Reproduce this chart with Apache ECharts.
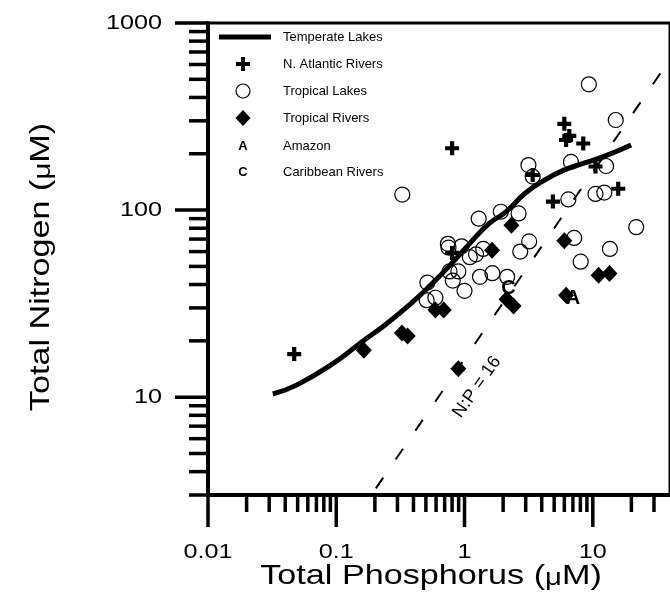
<!DOCTYPE html>
<html><head><meta charset="utf-8">
<script src="https://cdn.jsdelivr.net/npm/echarts@6/dist/echarts.min.js"></script>
<style>html,body{margin:0;padding:0;background:#fff}#c{width:670px;height:615px}</style>
</head><body><div id="c"></div>
<script>
// ---- data ----
const seriesNames = ['Temperate Lakes', 'N. Atlantic Rivers', 'Tropical Lakes', 'Tropical Rivers', 'Amazon', 'Caribbean Rivers'];

const temperateP = [0.032, 0.049, 0.094, 0.159, 0.24, 0.383, 0.544, 0.773, 1.10, 1.56, 2.09, 2.97, 4.23, 6.01, 8.54, 12.1, 19.9];
const temperateN = [10.4, 11.6, 15.1, 19.8, 24.3, 31.7, 39.7, 50.8, 66.4, 84.9, 97.5, 123, 145, 164, 178, 193, 223];

const atlanticP = [0.047, 0.80, 0.80, 3.40, 6.0, 6.56, 6.19, 8.43, 10.5, 4.89, 15.8];
const atlanticN = [17, 214, 59, 154, 289, 249, 237, 227, 171, 111, 130];

const tropLakeP = [9.32, 15.1, 3.15, 3.40, 6.76, 12.7, 6.45, 10.5, 12.3, 21.8, 1.92, 2.64, 3.19, 2.72, 7.16, 13.6, 8.05, 1.65, 2.15, 0.327, 1.29, 0.742, 0.75, 0.949, 1.10, 1.23, 1.40, 0.764, 0.895, 0.81, 1.0, 1.32, 0.513, 0.593, 0.507];
const tropLakeN = [470, 303, 174, 151, 181, 172, 114, 122, 124, 81, 98, 96, 68, 60, 71, 62, 53, 46, 44, 121, 90, 66, 63, 64, 56, 58, 62, 47, 47, 42, 37, 44, 41, 34, 33];

const tropRiverP = [0.164, 0.325, 0.36, 0.593, 0.688, 0.895, 1.64, 2.32, 2.13, 2.41, 6.0, 6.19, 11.1, 13.5];
const tropRiverN = [17.8, 22.0, 21.2, 29.2, 29.2, 14.2, 61, 83, 33.4, 30.7, 68.5, 35.1, 44.9, 45.8];

const amazonP = [7.0];
const amazonN = [33.5];
const caribP = [2.2];
const caribN = [38.1];

const npRatio = 16;
const npLineP = [0.1, 40];
const npLabel = 'N:P = 16';

const xMin = 0.01, xMax = 40, yMin = 3, yMax = 1000;
const xMajorTicks = [0.01, 0.1, 1, 10];
const xMajorLabels = ['0.01', '0.1', '1', '10'];
const xMinorTicks = [0.02, 0.03, 0.04, 0.05, 0.06, 0.07, 0.08, 0.09, 0.2, 0.3, 0.4, 0.5, 0.6, 0.7, 0.8, 0.9, 2, 3, 4, 5, 6, 7, 8, 9, 20, 30];
const yMajorTicks = [10, 100, 1000];
const yMajorLabels = ['10', '100', '1000'];
const yMinorTicks = [3, 4, 5, 6, 7, 8, 9, 20, 30, 40, 50, 60, 70, 80, 90, 200, 300, 400, 500, 600, 700, 800, 900];

const xTitle = 'Total Phosphorus ({m|\u03bc}M)';
const yTitle = 'Total Nitrogen ({m|\u03bc}M)';

// ---- helpers ----
const FONT = 'Liberation Sans, Arial, Helvetica, sans-serif';
const zip = (a, b) => a.map((v, i) => [v, b[i]]);
const plusPath = 'path://M-1.5,-5H1.5V-1.5H5V1.5H1.5V5H-1.5V1.5H-5V-1.5H-1.5Z';

function xTicks(values, len, labels) {
  return {
    type: 'custom', coordinateSystem: 'cartesian2d', clip: false, silent: true, z: 10,
    data: values.map(v => [v, yMin]),
    renderItem: (params, api) => {
      const p = api.coord([api.value(0), api.value(1)]);
      const ch = [{ type: 'line', shape: { x1: p[0], y1: p[1], x2: p[0], y2: p[1] + len }, style: { stroke: '#000', lineWidth: 3.5 } }];
      if (labels) ch.push({ type: 'text', x: p[0], y: p[1] + 57, scaleX: 1.2,
        style: { text: labels[params.dataIndex], fontSize: 21, fontFamily: FONT, fill: '#000', align: 'center', verticalAlign: 'middle' } });
      return { type: 'group', children: ch };
    }
  };
}
function yTicks(values, len, labels) {
  return {
    type: 'custom', coordinateSystem: 'cartesian2d', clip: false, silent: true, z: 10,
    data: values.map(v => [xMin, v]),
    renderItem: (params, api) => {
      const p = api.coord([api.value(0), api.value(1)]);
      const ch = [{ type: 'line', shape: { x1: p[0], y1: p[1], x2: p[0] - len, y2: p[1] }, style: { stroke: '#000', lineWidth: 3.5 } }];
      if (labels) ch.push({ type: 'text', x: p[0] - 46, y: p[1], scaleX: 1.2,
        style: { text: labels[params.dataIndex], fontSize: 21, fontFamily: FONT, fill: '#000', align: 'right', verticalAlign: 'middle' } });
      return { type: 'group', children: ch };
    }
  };
}
function letterSeries(name, xs, ys, letter) {
  return {
    name, type: 'custom', coordinateSystem: 'cartesian2d', z: 8,
    data: zip(xs, ys),
    renderItem: (params, api) => {
      const p = api.coord([api.value(0), api.value(1)]);
      return { type: 'text', x: p[0], y: p[1],
        style: { text: letter, fontSize: 20, fontWeight: 'bold', fontFamily: FONT, fill: '#000', align: 'center', verticalAlign: 'middle' } };
    }
  };
}

const chart = echarts.init(document.getElementById('c'), null, { renderer: 'canvas' });

const legendX = 243, textX = 283, legendY = [37, 64, 91, 118, 146, 172];

const option = {
  backgroundColor: '#fff',
  animation: false,
  grid: { left: 208, top: 23, right: -8, bottom: 120, show: true, borderColor: '#000', borderWidth: 3 },
  xAxis: {
    type: 'log', min: xMin, max: xMax, logBase: 10,
    axisLine: { show: true, lineStyle: { color: '#000', width: 4 } },
    axisTick: { show: false }, axisLabel: { show: false }, splitLine: { show: false }
  },
  yAxis: {
    type: 'log', min: yMin, max: yMax, logBase: 10,
    axisLine: { show: true, lineStyle: { color: '#000', width: 4 } },
    axisTick: { show: false }, axisLabel: { show: false }, splitLine: { show: false }
  },
  series: [
    { name: seriesNames[2], type: 'scatter', data: zip(tropLakeP, tropLakeN), symbol: 'circle', symbolSize: 15,
      itemStyle: { color: 'transparent', borderColor: '#000', borderWidth: 1.2, opacity: 1 }, z: 2 },
    { name: 'N:P', type: 'line', data: npLineP.map(p => [p, p * npRatio]), symbol: 'none', silent: true,
      lineStyle: { color: '#000', width: 2, type: [13, 22] }, z: 3 },
    { name: seriesNames[0], type: 'line', data: zip(temperateP, temperateN), symbol: 'none', smooth: true,
      lineStyle: { color: '#000', width: 5 }, z: 4 },
    { name: seriesNames[3], type: 'scatter', data: zip(tropRiverP, tropRiverN), symbol: 'diamond', symbolSize: [16, 17],
      itemStyle: { color: '#000', opacity: 1 }, z: 5 },
    { name: seriesNames[1], type: 'scatter', data: zip(atlanticP, atlanticN), symbol: plusPath, symbolSize: 14,
      itemStyle: { color: '#000', opacity: 1 }, z: 6 },
    letterSeries(seriesNames[4], amazonP, amazonN, 'A'),
    letterSeries(seriesNames[5], caribP, caribN, 'C'),
    xTicks(xMajorTicks, 32, xMajorLabels),
    xTicks(xMinorTicks, 17, null),
    yTicks(yMajorTicks, 33, yMajorLabels),
    yTicks(yMinorTicks, 19, null)
  ],
  graphic: [
    // legend
    { type: 'line', shape: { x1: 219, y1: legendY[0], x2: 271, y2: legendY[0] }, style: { stroke: '#000', lineWidth: 5 } },
    { type: 'polygon', x: legendX, y: legendY[1], shape: { points: [[-2,-7],[2,-7],[2,-2],[7,-2],[7,2],[2,2],[2,7],[-2,7],[-2,2],[-7,2],[-7,-2],[-2,-2]] }, style: { fill: '#000' } },
    { type: 'circle', shape: { cx: legendX, cy: legendY[2], r: 7 }, style: { fill: 'none', stroke: '#000', lineWidth: 1.2 } },
    { type: 'polygon', shape: { points: [[legendX, legendY[3] - 8], [legendX + 7.5, legendY[3]], [legendX, legendY[3] + 8], [legendX - 7.5, legendY[3]]] }, style: { fill: '#000' } },
    { type: 'text', x: legendX, y: legendY[4], style: { text: 'A', fontSize: 13, fontWeight: 'bold', fontFamily: FONT, fill: '#000', align: 'center', verticalAlign: 'middle' } },
    { type: 'text', x: legendX, y: legendY[5], style: { text: 'C', fontSize: 13, fontWeight: 'bold', fontFamily: FONT, fill: '#000', align: 'center', verticalAlign: 'middle' } },
    ...seriesNames.map((n, i) => ({ type: 'text', x: textX, y: legendY[i],
      style: { text: n, fontSize: 13, fontFamily: FONT, fill: '#000', align: 'left', verticalAlign: 'middle' } })),
    // N:P label
    { type: 'text', x: 477, y: 387, rotation: 55 * Math.PI / 180,
      style: { text: npLabel, fontSize: 18, fontFamily: FONT, fill: '#000', align: 'center', verticalAlign: 'middle' } },
    // axis titles
    { type: 'text', x: 431, y: 576, scaleX: 1.22,
      style: { text: xTitle, fontSize: 28, fontFamily: FONT, fill: '#000', align: 'center', verticalAlign: 'middle',
        rich: { m: { fontSize: 24, fontFamily: FONT, verticalAlign: 'bottom' } } } },
    { type: 'text', x: 41, y: 267, rotation: Math.PI / 2, scaleX: 1.22,
      style: { text: yTitle, fontSize: 28, fontFamily: FONT, fill: '#000', align: 'center', verticalAlign: 'middle',
        rich: { m: { fontSize: 24, fontFamily: FONT, verticalAlign: 'bottom' } } } }
  ]
};
chart.setOption(option);
</script></body></html>
